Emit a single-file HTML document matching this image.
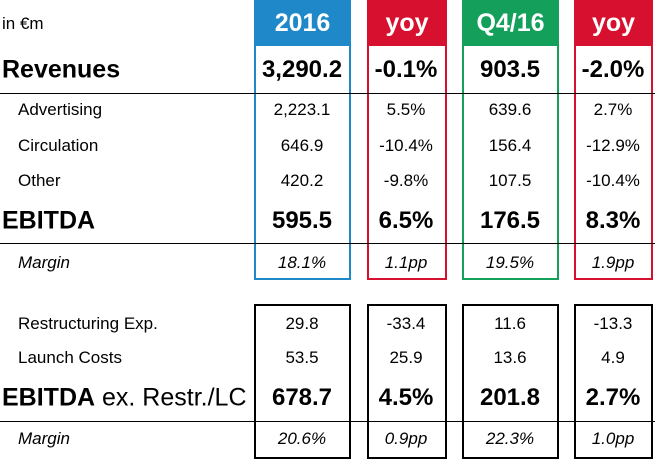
<!DOCTYPE html>
<html><head><meta charset="utf-8"><style>
body{margin:0;width:655px;height:459px;background:#fff;position:relative;overflow:hidden;font-family:"Liberation Sans",Arial,sans-serif;color:#000}
.box{position:absolute;box-sizing:border-box;border:2px solid}
.hd{position:absolute;color:#fff;font-weight:bold;font-size:25px;text-align:center;line-height:46px}
.hl{position:absolute;left:0;width:655px;height:0;border-top:1.5px solid #000}
.t{position:absolute;transform:translateY(-50%);white-space:nowrap}
.c{position:absolute;transform:translate(-50%,-50%);white-space:nowrap}
.big{font-weight:bold;font-size:25px}
.val{font-weight:bold;font-size:24px}
.n{font-size:17px}
.i{font-size:17px;font-style:italic}
</style></head><body>
<div class="box" style="left:254px;top:0;width:97px;height:280px;border-color:#1e88c8"></div>
<div class="hd" style="left:254px;top:0;width:97px;height:46px;background:#1e88c8">2016</div>
<div class="box" style="left:367px;top:0;width:80px;height:280px;border-color:#d7102f"></div>
<div class="hd" style="left:367px;top:0;width:80px;height:46px;background:#d7102f">yoy</div>
<div class="box" style="left:462px;top:0;width:97px;height:280px;border-color:#14a05a"></div>
<div class="hd" style="left:462px;top:0;width:97px;height:46px;background:#14a05a">Q4/16</div>
<div class="box" style="left:574px;top:0;width:79px;height:280px;border-color:#d7102f"></div>
<div class="hd" style="left:574px;top:0;width:79px;height:46px;background:#d7102f">yoy</div>

<div class="box" style="left:254px;top:304px;width:97px;height:155px;border-color:#000"></div>
<div class="box" style="left:367px;top:304px;width:80px;height:155px;border-color:#000"></div>
<div class="box" style="left:462px;top:304px;width:97px;height:155px;border-color:#000"></div>
<div class="box" style="left:574px;top:304px;width:79px;height:155px;border-color:#000"></div>

<div class="hl" style="top:93px"></div>
<div class="hl" style="top:243px"></div>
<div class="hl" style="top:421px"></div>

<div class="t n" style="left:2px;top:24px">in €m</div>
<div class="t big" style="left:2px;top:70px">Revenues</div>
<div class="t n" style="left:18px;top:110px">Advertising</div>
<div class="t n" style="left:18px;top:146px">Circulation</div>
<div class="t n" style="left:18px;top:181px">Other</div>
<div class="t big" style="left:2px;top:221px">EBITDA</div>
<div class="t i" style="left:18px;top:263px">Margin</div>
<div class="t n" style="left:18px;top:324px">Restructuring Exp.</div>
<div class="t n" style="left:18px;top:358px">Launch Costs</div>
<div class="t" style="left:2px;top:398px;font-size:25px"><b>EBITDA</b> ex. Restr./LC</div>
<div class="t i" style="left:18px;top:439px">Margin</div>

<div id="cells"></div>
<script>
const colX=[302,406,510,613];
const rowY=[70,110,146,181,221,263,324,358,398,439];
const rowCls=["val","n","n","n","val","i","n","n","val","i"];
const rowNames=["revenues","advertising","circulation","other","ebitda","margin","restructuring","launch-costs","ebitda-ex","margin-ex"];
const values=[
["3,290.2","-0.1%","903.5","-2.0%"],
["2,223.1","5.5%","639.6","2.7%"],
["646.9","-10.4%","156.4","-12.9%"],
["420.2","-9.8%","107.5","-10.4%"],
["595.5","6.5%","176.5","8.3%"],
["18.1%","1.1pp","19.5%","1.9pp"],
["29.8","-33.4","11.6","-13.3"],
["53.5","25.9","13.6","4.9"],
["678.7","4.5%","201.8","2.7%"],
["20.6%","0.9pp","22.3%","1.0pp"]];
const root=document.getElementById('cells');
values.forEach((r,i)=>r.forEach((v,j)=>{
const d=document.createElement('div');
d.className='c '+rowCls[i];
d.style.left=colX[j]+'px';d.style.top=rowY[i]+'px';
d.textContent=v;


root.appendChild(d);
}));
</script>
</body></html>
